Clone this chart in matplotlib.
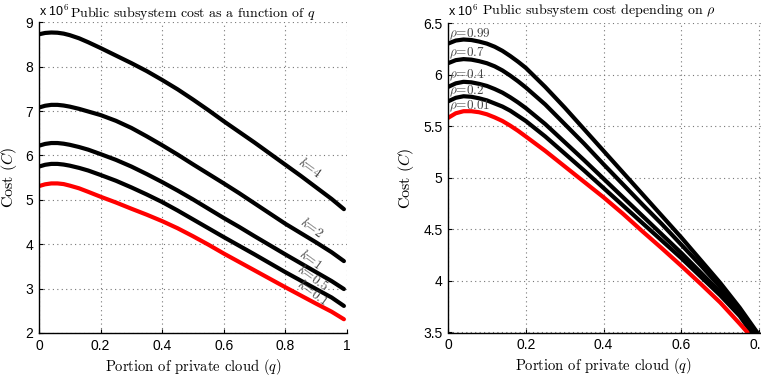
import matplotlib
matplotlib.use("Agg")
import matplotlib.pyplot as plt

plt.rcParams['mathtext.fontset'] = 'cm'
plt.rcParams['axes.unicode_minus'] = False

# ---- Left panel data (cost in units of 1e6) ----
q_left = [0, 0.02, 0.04, 0.06, 0.08, 0.1, 0.13, 0.16, 0.2, 0.25, 0.3, 0.35, 0.4, 0.45,
          0.5, 0.55, 0.6, 0.65, 0.7, 0.75, 0.8, 0.85, 0.9, 0.95, 0.99]
k_labels = ["k=4", "k=2", "k=1", "k=0.5", "k=0.1"]
cost_k4 = [8.73, 8.76, 8.77, 8.765, 8.745, 8.71, 8.64, 8.55, 8.42, 8.25, 8.08, 7.90, 7.70, 7.49,
           7.26, 7.02, 6.77, 6.53, 6.29, 6.04, 5.79, 5.54, 5.28, 5.02, 4.79]
cost_k2 = [7.08, 7.12, 7.14, 7.14, 7.125, 7.10, 7.05, 6.99, 6.91, 6.78, 6.62, 6.43, 6.23, 6.02,
           5.80, 5.585, 5.37, 5.15, 4.92, 4.69, 4.46, 4.25, 4.04, 3.82, 3.62]
cost_k1 = [6.22, 6.26, 6.28, 6.28, 6.265, 6.24, 6.19, 6.13, 6.03, 5.90, 5.75, 5.58, 5.40, 5.21,
           5.01, 4.80, 4.59, 4.39, 4.18, 3.975, 3.77, 3.57, 3.37, 3.17, 2.99]
cost_k05 = [5.75, 5.79, 5.81, 5.81, 5.795, 5.77, 5.72, 5.66, 5.56, 5.43, 5.28, 5.12, 4.95, 4.76,
            4.56, 4.36, 4.16, 3.965, 3.77, 3.57, 3.37, 3.18, 2.99, 2.80, 2.61]
cost_k01 = [5.31, 5.35, 5.37, 5.37, 5.355, 5.32, 5.26, 5.18, 5.07, 4.94, 4.80, 4.665, 4.52, 4.36,
            4.18, 3.99, 3.79, 3.60, 3.41, 3.22, 3.03, 2.845, 2.66, 2.48, 2.31]
k_label_pos = [(0.878, 5.72), (0.885, 4.37), (0.88, 3.66), (0.89, 3.25), (0.89, 2.91)]

# ---- Right panel data ----
rho_labels = ["0.99", "0.7", "0.4", "0.2", "0.01"]
q_r099 = [0, 0.02, 0.04, 0.06, 0.08, 0.1, 0.12, 0.14, 0.16, 0.18, 0.2, 0.25, 0.3, 0.35, 0.4,
          0.45, 0.5, 0.55, 0.6, 0.65, 0.7, 0.75, 0.795]
c_r099 = [6.30, 6.33, 6.34, 6.335, 6.32, 6.30, 6.27, 6.23, 6.18, 6.125, 6.065, 5.88, 5.68, 5.47,
          5.26, 5.05, 4.84, 4.63, 4.42, 4.20, 3.98, 3.74, 3.50]
q_r07 = [0, 0.02, 0.04, 0.06, 0.08, 0.1, 0.12, 0.14, 0.16, 0.18, 0.2, 0.25, 0.3, 0.35, 0.4,
         0.45, 0.5, 0.55, 0.6, 0.65, 0.7, 0.75, 0.79]
c_r07 = [6.11, 6.14, 6.15, 6.145, 6.13, 6.11, 6.08, 6.04, 5.99, 5.935, 5.875, 5.71, 5.52, 5.33,
         5.13, 4.935, 4.74, 4.55, 4.35, 4.15, 3.94, 3.72, 3.50]
q_r04 = [0, 0.02, 0.04, 0.06, 0.08, 0.1, 0.12, 0.14, 0.16, 0.18, 0.2, 0.25, 0.3, 0.35, 0.4,
         0.45, 0.5, 0.55, 0.6, 0.65, 0.7, 0.75, 0.785]
c_r04 = [5.88, 5.915, 5.93, 5.925, 5.91, 5.89, 5.86, 5.825, 5.78, 5.73, 5.675, 5.52, 5.345, 5.17,
         4.99, 4.81, 4.63, 4.45, 4.27, 4.08, 3.89, 3.69, 3.50]
q_r02 = [0, 0.02, 0.04, 0.06, 0.08, 0.1, 0.12, 0.14, 0.16, 0.18, 0.2, 0.25, 0.3, 0.35, 0.4,
         0.45, 0.5, 0.55, 0.6, 0.65, 0.7, 0.75, 0.78]
c_r02 = [5.74, 5.775, 5.79, 5.785, 5.77, 5.75, 5.72, 5.69, 5.65, 5.60, 5.55, 5.40, 5.235, 5.07,
         4.90, 4.73, 4.56, 4.39, 4.22, 4.04, 3.86, 3.66, 3.50]
q_r001 = [0, 0.02, 0.04, 0.06, 0.08, 0.1, 0.12, 0.14, 0.16, 0.18, 0.2, 0.25, 0.3, 0.35, 0.4,
          0.45, 0.5, 0.55, 0.6, 0.65, 0.7, 0.75, 0.77]
c_r001 = [5.58, 5.625, 5.645, 5.645, 5.635, 5.615, 5.585, 5.55, 5.505, 5.455, 5.40, 5.26, 5.11, 4.96,
          4.81, 4.65, 4.48, 4.315, 4.145, 3.97, 3.79, 3.585, 3.50]
rho_label_y = [6.39, 6.21, 5.99, 5.84, 5.69]

W, H = 761, 378
fig = plt.figure(figsize=(W / 100, H / 100), dpi=100)

serif = 'cmr10'
tick_font = 'Liberation Sans'


def style(ax):
    for s in ('top', 'right'):
        ax.spines[s].set_visible(False)
    for s in ('left', 'bottom'):
        ax.spines[s].set_linewidth(1.0)
    ax.grid(True, linestyle=(0, (1, 3)), color='#777777', linewidth=0.8)
    ax.tick_params(direction='in', length=3, labelsize=10, pad=4)
    for lab in ax.get_xticklabels() + ax.get_yticklabels():
        lab.set_fontfamily(tick_font)
    ax.set_xlabel('Portion of private cloud ($q$)', fontfamily=serif, fontsize=10.5, labelpad=3)
    ax.set_ylabel('Cost ($C$)', fontfamily=serif, fontsize=11.5, labelpad=5)


# Left axes
axL = fig.add_axes([39 / W, 1 - 333 / H, 308 / W, (333 - 22.3) / H])
series_left = [cost_k4, cost_k2, cost_k1, cost_k05, cost_k01]
for i, c in enumerate(series_left):
    axL.plot(q_left, c, color='red' if i == 4 else 'black', lw=3, solid_capstyle='round',
             solid_joinstyle='round')
axL.set_xlim(0, 1)
axL.set_ylim(2, 9)
axL.set_xticks([0, 0.2, 0.4, 0.6, 0.8, 1])
axL.set_xticklabels(['0', '0.2', '0.4', '0.6', '0.8', '1'])
axL.set_yticks(range(2, 10))
style(axL)
for lab, (x, y) in zip(k_labels, k_label_pos):
    name, val = lab.split('=')
    axL.text(x, y, '$k$=' + val, rotation=-36, rotation_mode='anchor', ha='center', va='center',
             fontfamily=serif, fontsize=9.5, color='#444444')
axL.text(0.0, 1.012, 'x 10$^{6}$', transform=axL.transAxes, fontfamily=tick_font, fontsize=9,
         ha='left', va='bottom')
axL.set_title('Public subsystem cost as a function of $q$', fontfamily=serif, fontsize=10, pad=4)

# Right axes (extends beyond the figure edge, as in the cropped original)
axR = fig.add_axes([448 / W, 1 - 332.5 / H, 389 / W, (332.5 - 23) / H])
qs = [q_r099, q_r07, q_r04, q_r02, q_r001]
cs = [c_r099, c_r07, c_r04, c_r02, c_r001]
for i, (qq, cc) in enumerate(zip(qs, cs)):
    axR.plot(qq, cc, color='red' if i == 4 else 'black', lw=3, solid_capstyle='round',
             solid_joinstyle='round')
axR.set_xlim(0, 1)
axR.set_ylim(3.5, 6.5)
axR.set_xticks([0, 0.2, 0.4, 0.6, 0.8, 1])
axR.set_xticklabels(['0', '0.2', '0.4', '0.6', '0.8', '1'])
axR.set_yticks([3.5, 4, 4.5, 5, 5.5, 6, 6.5])
axR.set_yticklabels(['3.5', '4', '4.5', '5', '5.5', '6', '6.5'])
style(axR)
axR.xaxis.label.set_x(0.5 * 311 / 389)
for lab, y in zip(rho_labels, rho_label_y):
    axR.text(0.003, y, r'$\rho$=' + lab, ha='left', va='center', fontfamily=serif, fontsize=9.5,
             color='#444444')
axR.text(0.0, 1.012, 'x 10$^{6}$', transform=axR.transAxes, fontfamily=tick_font, fontsize=9,
         ha='left', va='bottom')
axR.text(0.388, 1.012, r'Public subsystem cost depending on $\rho$', transform=axR.transAxes,
         fontfamily=serif, fontsize=10, ha='center', va='bottom')

fig.savefig('out.png', dpi=100)
